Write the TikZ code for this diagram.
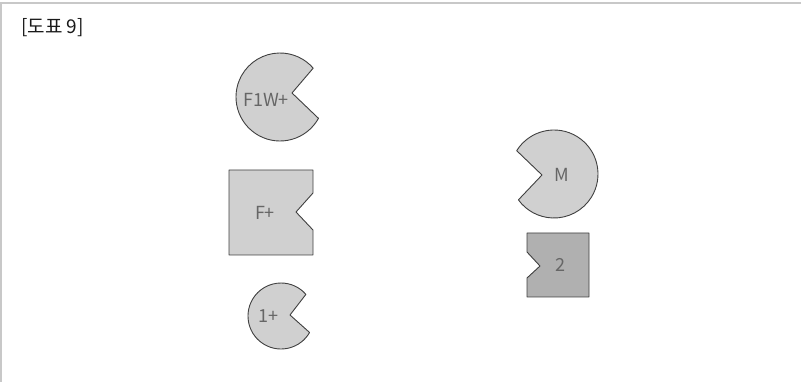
\documentclass[tikz,border=0pt]{standalone}
\usepackage{fontspec}
\setmainfont{Noto Sans CJK KR}
\usepackage{xcolor}
\usepackage{tikz}
\definecolor{pieceFill}{HTML}{D0D0D0}
\definecolor{darkFill}{HTML}{B0B0B0}
\definecolor{frameGray}{HTML}{C8C8C8}

\begin{document}
\begin{tikzpicture}[
    x=1pt, y=-1pt,
    font=\fontsize{18}{20}\selectfont,
    piece/.style={draw=black!75, line width=0.9pt, fill=pieceFill, line join=round},
    darkpiece/.style={piece, fill=darkFill},
    label/.style={text=black!60, inner sep=0pt},
    frame/.style={draw=frameGray, line width=2pt},
  ]
    \useasboundingbox (0,0) rectangle (801,382);
    \draw[frame] (1,382) -- (1,3) -- (801,3);

    \node[anchor=west, text=black!90, inner sep=0pt, font=\fontsize{19}{21}\selectfont] (title) at (21,28) {[도표 9]};

    % left column
    \draw[piece] (292,93) -- ([shift={(29:44)}]280,97) arc[start angle=29, end angle=319, radius=44] -- cycle;
    \node[label] (f1w) at (266,100) {F1W+};

    \draw[piece] (229,170) -- (313,170) -- (313,193) -- (296,212) -- (313,230) -- (313,255) -- (229,255) -- cycle;
    \node[label] (fplus) at (265,213) {F+};

    \draw[piece] (290,315) -- ([shift={(30:33)}]281,316) arc[start angle=30, end angle=319, radius=33] -- cycle;
    \node[label] (oneplus) at (268,316) {1+};

    % right column
    \draw[piece] (542,175) -- ([shift={(212:44)}]554,174) arc[start angle=212, end angle=504, radius=44] -- cycle;
    \node[label] (m) at (562,175) {M};

    \draw[darkpiece] (527,233) -- (589,233) -- (589,297) -- (527,297) -- (527,278) -- (540,266) -- (527,252) -- cycle;
    \node[label] (two) at (560,265) {2};
  \end{tikzpicture}
\end{document}
